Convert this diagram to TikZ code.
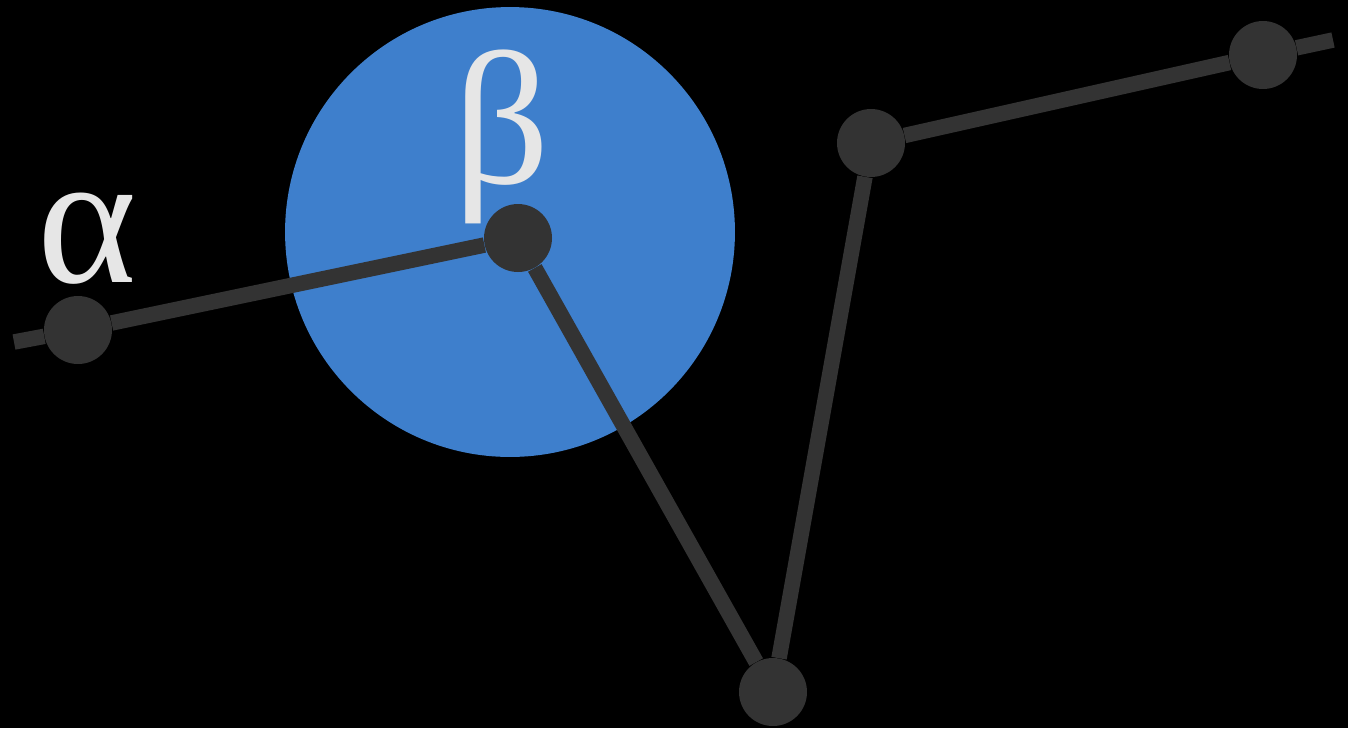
\documentclass[tikz,border=0pt]{standalone}
\usepackage{fontspec}
\setmainfont{Liberation Serif}
\definecolor{discblue}{HTML}{3E7FCC}
\definecolor{linkgray}{HTML}{333333}
\definecolor{labelgray}{HTML}{E6E6E6}
\begin{document}
\begin{tikzpicture}[x=0.02cm,y=-0.02cm,
        joint/.style={circle,fill=linkgray,inner sep=0pt,minimum size=1.36cm},
        link/.style={draw=linkgray,line width=0.31cm},
        greek/.style={text=labelgray,font=\fontsize{108}{108}\selectfont,inner sep=0pt,anchor=base}]
        %% Background
        \fill[black] (0,0) rectangle (1348,728);
        \useasboundingbox (0,0) rectangle (1348,728);
        %% Disc
        \fill[discblue] (510,232) circle[radius=4.5cm];
        %% Joints
        \coordinate (start) at (14,342);
        \coordinate (end) at (1333,40);
        \node[joint] (j1) at (78,330) {};
        \node[joint] (j2) at (518,238) {};
        \node[joint] (j3) at (773,692) {};
        \node[joint] (j4) at (871,143) {};
        \node[joint] (j5) at (1263,55) {};
        %% Links
        \draw[link] (start) -- (j1);
        \draw[link] (j1) -- (j2) -- (j3) -- (j4) -- (j5);
        \draw[link] (j5) -- (end);
        %% Labels
        \node[greek] (alpha) at (87,282) {α};
        \node[greek] (beta) at (502,183) {β};
\end{tikzpicture}
\end{document}
